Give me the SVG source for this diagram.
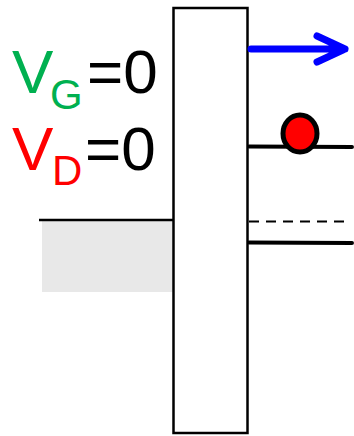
<svg xmlns="http://www.w3.org/2000/svg" width="354" height="436" viewBox="0 0 354 436">
<style>
.t{font-family:"Liberation Sans",Arial,sans-serif}
.lvl{stroke:#000;stroke-width:4;fill:none;stroke-linecap:round}
</style>
<rect width="354" height="436" fill="#fff"/>
<g id="labels" class="t">
<text x="12" y="93" font-size="62" fill="#00b050">V</text>
<text x="50" y="109" font-size="42" fill="#00b050">G</text>
<text x="87" y="93" font-size="62" fill="#000">=0</text>
<text x="12" y="170" font-size="62" fill="#ff0000">V</text>
<text x="52" y="185" font-size="42" fill="#ff0000">D</text>
<text x="85" y="170" font-size="62" fill="#000">=0</text>
</g>
<g id="source">
<rect x="42" y="221" width="131" height="71" fill="#e8e8e8"/>
<line x1="39" y1="220" x2="173" y2="220" stroke="#000" stroke-width="2.5"/>
</g>
<g id="barrier">
<rect x="173.5" y="8" width="74" height="425" fill="#fff" stroke="#000" stroke-width="2.5"/>
</g>
<g id="drain">
<path class="lvl" d="M249 146.5 L352 147"/>
<line x1="249" y1="221.5" x2="348" y2="221.5" stroke="#000" stroke-width="2" stroke-dasharray="10 7"/>
<path class="lvl" d="M249 242.5 L352 243"/>
</g>
<g id="electron">
<ellipse cx="300" cy="133.5" rx="17" ry="18.5" fill="#ff0000" stroke="#000" stroke-width="5"/>
</g>
<g id="connectors">
<path d="M251 49 H345 M317 36 L345 49 L317 62" fill="none" stroke="#0000ff" stroke-width="7" stroke-linecap="round" stroke-linejoin="round"/>
</g>
</svg>
